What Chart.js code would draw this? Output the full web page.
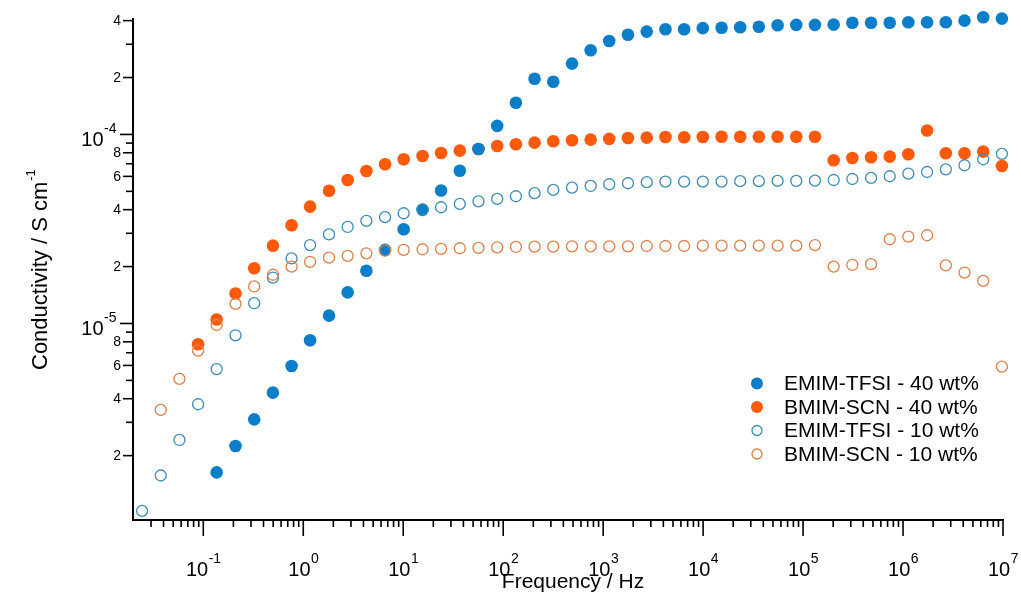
<!DOCTYPE html>
<html>
<head>
<meta charset="utf-8">
<script src="https://cdn.jsdelivr.net/npm/chart.js@4/dist/chart.umd.min.js"></script>
<style>
  html, body { margin: 0; padding: 0; background: #fff; }
  #wrap { width: 1021px; height: 595px; position: relative; }
</style>
</head>
<body>
<div id="wrap"><canvas id="mygraph"></canvas></div>
<script>
// frequency in Hz, one entry per measured point
const freq = [0.0244, 0.0375, 0.0577, 0.0887, 0.136, 0.210, 0.323, 0.497, 0.764, 1.17,
  1.81, 2.78, 4.28, 6.58, 10.1, 15.6, 23.9, 36.8, 56.6, 87.1,
  134, 206, 317, 488, 750, 1150, 1770, 2730, 4200, 6460,
  9930, 15300, 23500, 36100, 55600, 85500, 131500, 202300, 311200, 478600,
  736200, 1.13e6, 1.74e6, 2.68e6, 4.12e6, 6.34e6, 9.75e6];

// conductivity in S/cm (null = no point at that frequency)
const emim40 = [null, null, null, null, 1.63e-6, 2.25e-6, 3.11e-6, 4.31e-6, 5.96e-6, 8.15e-6,
  1.10e-5, 1.46e-5, 1.90e-5, 2.45e-5, 3.15e-5, 3.99e-5, 5.05e-5, 6.43e-5, 8.38e-5, 1.11e-4,
  1.47e-4, 1.97e-4, 1.90e-4, 2.37e-4, 2.79e-4, 3.12e-4, 3.37e-4, 3.50e-4, 3.60e-4, 3.60e-4,
  3.65e-4, 3.67e-4, 3.69e-4, 3.71e-4, 3.78e-4, 3.80e-4, 3.80e-4, 3.81e-4, 3.90e-4, 3.90e-4,
  3.90e-4, 3.92e-4, 3.92e-4, 3.92e-4, 4.00e-4, 4.17e-4, 4.10e-4];
const bmim40 = [null, null, null, 7.76e-6, 1.05e-5, 1.44e-5, 1.96e-5, 2.58e-5, 3.31e-5, 4.15e-5,
  5.04e-5, 5.74e-5, 6.41e-5, 6.95e-5, 7.39e-5, 7.69e-5, 7.98e-5, 8.21e-5, 8.38e-5, 8.69e-5,
  8.87e-5, 9.05e-5, 9.20e-5, 9.32e-5, 9.39e-5, 9.47e-5, 9.58e-5, 9.62e-5, 9.70e-5, 9.66e-5,
  9.70e-5, 9.73e-5, 9.73e-5, 9.73e-5, 9.73e-5, 9.73e-5, 9.73e-5, 7.30e-5, 7.51e-5, 7.58e-5,
  7.63e-5, 7.85e-5, 1.05e-4, 7.95e-5, 7.95e-5, 8.11e-5, 6.81e-5];
const emim10 = [1.02e-6, 1.57e-6, 2.42e-6, 3.74e-6, 5.74e-6, 8.66e-6, 1.28e-5, 1.75e-5, 2.21e-5, 2.60e-5,
  2.96e-5, 3.24e-5, 3.49e-5, 3.65e-5, 3.83e-5, 4.01e-5, 4.12e-5, 4.29e-5, 4.43e-5, 4.56e-5,
  4.71e-5, 4.89e-5, 5.09e-5, 5.23e-5, 5.34e-5, 5.45e-5, 5.52e-5, 5.59e-5, 5.63e-5, 5.63e-5,
  5.63e-5, 5.63e-5, 5.66e-5, 5.66e-5, 5.68e-5, 5.68e-5, 5.70e-5, 5.74e-5, 5.81e-5, 5.89e-5,
  6.01e-5, 6.20e-5, 6.33e-5, 6.54e-5, 6.87e-5, 7.39e-5, 7.89e-5];
const bmim10 = [null, 3.49e-6, 5.09e-6, 7.18e-6, 9.82e-6, 1.27e-5, 1.57e-5, 1.81e-5, 2.00e-5, 2.12e-5,
  2.23e-5, 2.28e-5, 2.35e-5, 2.43e-5, 2.45e-5, 2.47e-5, 2.48e-5, 2.50e-5, 2.51e-5, 2.53e-5,
  2.54e-5, 2.55e-5, 2.55e-5, 2.56e-5, 2.56e-5, 2.56e-5, 2.56e-5, 2.57e-5, 2.57e-5, 2.57e-5,
  2.58e-5, 2.58e-5, 2.58e-5, 2.58e-5, 2.58e-5, 2.58e-5, 2.60e-5, 2.00e-5, 2.04e-5, 2.06e-5,
  2.79e-5, 2.88e-5, 2.93e-5, 2.03e-5, 1.86e-5, 1.68e-5, 5.91e-6];

const labels = ["EMIM-TFSI - 40 wt%", "BMIM-SCN - 40 wt%", "EMIM-TFSI - 10 wt%", "BMIM-SCN - 10 wt%"];

// axis tick labels
const xTickExp = [-1, 0, 1, 2, 3, 4, 5, 6, 7];
const yTickExp = [-5, -4];
const yMinorLabels = ["2", "4", "6", "8"];

const xMin = 0.0198, xMax = 1e7;
const yMin = 9.13e-7, yMax = 4.08e-4;

const FONT = "'Liberation Sans', Arial, sans-serif";
const blue = "#0a7ec8";
const orange = "#ff5a0a";
const blueOpen = "#3a8cb6";
const orangeOpen = "#e07e48";

function toPoints(vals) {
  var pts = [];
  vals.forEach(function (v, i) {
    if (v !== null) pts.push({ x: freq[i], y: v });
  });
  return pts;
}

function filled(label, vals, color, order) {
  return {
    label: label, data: toPoints(vals), order: order, clip: false,
    pointStyle: 'circle', pointRadius: 6.3, pointHoverRadius: 6.3,
    pointBackgroundColor: color, pointBorderColor: color, pointBorderWidth: 0,
    backgroundColor: color, borderColor: color, showLine: false
  };
}

function hollow(label, vals, color, order) {
  return {
    label: label, data: toPoints(vals), order: order, clip: false,
    pointStyle: 'circle', pointRadius: 5.5, pointHoverRadius: 5.5,
    pointBackgroundColor: 'rgba(0,0,0,0)', pointBorderColor: color, pointBorderWidth: 1.3,
    backgroundColor: 'rgba(0,0,0,0)', borderColor: color, showLine: false
  };
}

function drawPow(ctx, exp, x, y, align) {
  // "10" with a raised exponent; align 'center' on x or 'right' ending at x
  ctx.font = "20px " + FONT;
  var wBase = ctx.measureText("10").width;
  ctx.font = "14px " + FONT;
  var e = String(exp);
  var wExp = ctx.measureText(e).width;
  var start = align === 'center' ? x - (wBase + wExp) / 2 : x - wBase - wExp;
  ctx.textAlign = 'left';
  ctx.textBaseline = 'alphabetic';
  ctx.font = "20px " + FONT;
  ctx.fillText("10", start, y);
  ctx.font = "14px " + FONT;
  ctx.fillText(e, start + wBase + 0.5, y - 13);
}

const axisDecor = {
  id: 'axisDecor',
  afterDraw: function (chart) {
    var ctx = chart.ctx;
    var xs = chart.scales.x, ys = chart.scales.y;
    var area = chart.chartArea;
    ctx.save();
    ctx.strokeStyle = "#000";
    ctx.fillStyle = "#000";
    ctx.lineWidth = 1.6;

    function tick(x1, y1, x2, y2) {
      ctx.beginPath();
      ctx.moveTo(x1, y1);
      ctx.lineTo(x2, y2);
      ctx.stroke();
    }

    // x ticks
    var b = area.bottom;
    for (var d = -2; d <= 6; d++) {
      for (var m = 2; m <= 9; m++) {
        var v = m * Math.pow(10, d);
        if (v < xMin || v > xMax) continue;
        var px = xs.getPixelForValue(v);
        if (px < area.left + 3) continue;
        tick(px, b, px, b + 7);
      }
    }
    xTickExp.forEach(function (e) {
      var px = xs.getPixelForValue(Math.pow(10, e));
      tick(px, b, px, b + 16);
      drawPow(ctx, e, px, b + 56, 'center');
    });

    // y ticks
    var l = area.left;
    for (var d = -6; d <= -4; d++) {
      for (var m = 2; m <= 9; m++) {
        var v = m * Math.pow(10, d);
        if (v < yMin || v > yMax) continue;
        var py = ys.getPixelForValue(v);
        var lab = yMinorLabels.indexOf(String(m)) >= 0;
        tick(l - (lab ? 10 : 7), py, l, py);
        if (lab) {
          ctx.font = "14px " + FONT;
          ctx.textAlign = 'right';
          ctx.textBaseline = 'middle';
          ctx.fillText(String(m), l - 12, py + 0.5);
        }
      }
    }
    yTickExp.forEach(function (e) {
      var py = ys.getPixelForValue(Math.pow(10, e));
      tick(l - 13, py, l, py);
      drawPow(ctx, e, l - 17, py + 12, 'right');
    });

    // axis titles
    ctx.textAlign = 'center';
    ctx.textBaseline = 'alphabetic';
    ctx.font = "21px " + FONT;
    ctx.fillText("Frequency / Hz", 573, 588);

    ctx.save();
    ctx.translate(47, 370);
    ctx.rotate(-Math.PI / 2);
    ctx.textAlign = 'left';
    ctx.font = "22px " + FONT;
    var t = "Conductivity / S cm";
    ctx.fillText(t, 0, 0);
    var tw = ctx.measureText(t).width;
    ctx.font = "13px " + FONT;
    ctx.fillText("-1", tw + 1, -12);
    ctx.restore();

    // legend
    var rows = [383.5, 407, 430.5, 454];
    var legendOrder = [0, 1, 2, 3];
    legendOrder.forEach(function (i, r) {
      var ds = chart.data.datasets[i];
      var y = rows[r];
      ctx.beginPath();
      if (ds.pointBorderWidth > 0) {
        ctx.arc(757, y, 5, 0, Math.PI * 2);
        ctx.lineWidth = 1.3;
        ctx.strokeStyle = ds.pointBorderColor;
        ctx.stroke();
      } else {
        ctx.arc(757, y, 6, 0, Math.PI * 2);
        ctx.fillStyle = ds.pointBackgroundColor;
        ctx.fill();
      }
      ctx.fillStyle = "#000";
      ctx.font = "21px " + FONT;
      ctx.textAlign = 'left';
      ctx.textBaseline = 'middle';
      ctx.fillText(ds.label, 784, y + 1);
    });
    ctx.restore();
  }
};

var ctx = document.getElementById("mygraph");
var mygraph = new Chart(ctx, {
  type: 'scatter',
  data: {
    datasets: [
      filled(labels[0], emim40, blue, 2),
      filled(labels[1], bmim40, orange, 3),
      hollow(labels[2], emim10, blueOpen, 1),
      hollow(labels[3], bmim10, orangeOpen, 0)
    ]
  },
  options: {
    responsive: true,
    maintainAspectRatio: false,
    animation: false,
    layout: { padding: { left: 133, right: 18, top: 19, bottom: 75 } },
    plugins: { legend: { display: false }, tooltip: { enabled: false } },
    scales: {
      x: {
        type: 'logarithmic', min: xMin, max: xMax,
        grid: { display: false, drawTicks: false },
        ticks: { display: false },
        border: { display: true, color: "#000", width: 2 }
      },
      y: {
        type: 'logarithmic', min: yMin, max: yMax,
        grid: { display: false, drawTicks: false },
        ticks: { display: false },
        border: { display: true, color: "#000", width: 2 }
      }
    }
  },
  plugins: [axisDecor]
});
</script>
</body>
</html>
